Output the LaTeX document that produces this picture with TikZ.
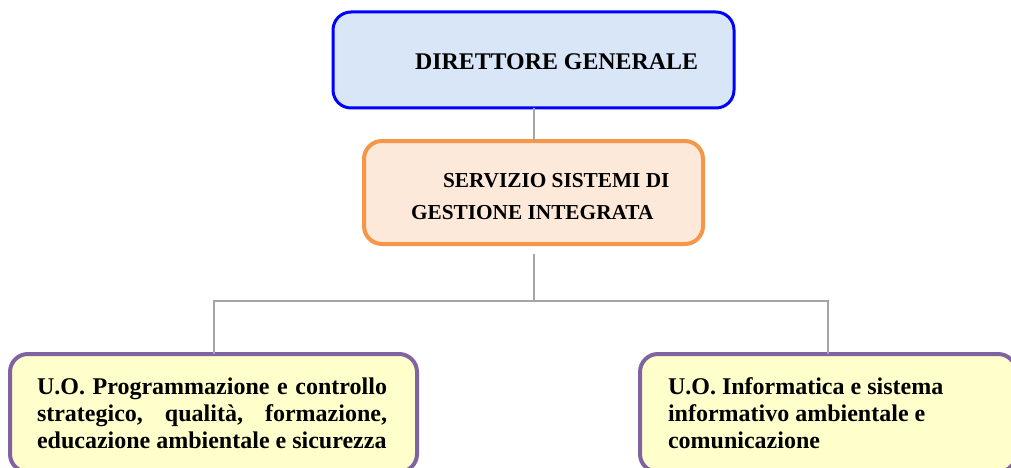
\documentclass[tikz,border=0pt]{standalone}
\usepackage{fontspec}
\setmainfont{Liberation Serif}
\definecolor{blueborder}{HTML}{0000FF}
\definecolor{bluefill}{HTML}{D9E6F7}
\definecolor{orangeborder}{HTML}{F79646}
\definecolor{orangefill}{HTML}{FDE9D9}
\definecolor{purpleborder}{HTML}{8064A2}
\definecolor{yellowfill}{HTML}{FFFFCC}
\definecolor{linkgray}{HTML}{A5A5A5}
\tikzset{
  box/.style={draw, rounded corners=18pt, inner sep=0pt, outer sep=0pt},
  topbox/.style={box, draw=blueborder, fill=bluefill, line width=3pt},
  midbox/.style={box, draw=orangeborder, fill=orangefill, line width=4pt},
  unitbox/.style={box, draw=purpleborder, fill=yellowfill, line width=4pt},
  label/.style={inner sep=0pt, outer sep=0pt, anchor=base west, font=\bfseries},
  link/.style={draw=linkgray, line width=2pt}
}
\begin{document}
\begin{tikzpicture}[x=1pt, y=-1pt]
\useasboundingbox (0,0) rectangle (1011,468);
\clip (0,0) rectangle (1011,468);
% boxes
\node[topbox, minimum width=401pt, minimum height=96pt] (dg) at (533.5,60) {};
\node[midbox, minimum width=339pt, minimum height=103pt] (ssgi) at (533.5,192.5) {};
\node[unitbox, minimum width=407pt, minimum height=118pt] (uoa) at (213.5,413) {};
\node[unitbox, minimum width=376pt, minimum height=118pt] (uob) at (828,413) {};
% texts
\node[label, font=\bfseries\fontsize{23.9}{28}\selectfont] (dgt) at (415,70) {DIRETTORE GENERALE};
\node[label, font=\bfseries\fontsize{21.3}{32}\selectfont] (ssgit1) at (443,187) {SERVIZIO SISTEMI DI};
\node[label, font=\bfseries\fontsize{21.3}{32}\selectfont] (ssgit2) at (411,219) {GESTIONE INTEGRATA};
\node[label] (uoat) at (37,394) {\parbox[t]{350pt}{\fontsize{24}{27}\selectfont\bfseries\noindent\hyphenpenalty=10000
U.O.\ Programmazione e controllo\linebreak strategico, qualità, formazione,\linebreak educazione ambientale e sicurezza}};
\node[label] (uobt) at (668,394) {\parbox[t]{330pt}{\fontsize{24}{27}\selectfont\bfseries\raggedright
U.O. Informatica e sistema\\ informativo ambientale e\\ comunicazione}};
% connectors
\coordinate (j) at (533.5,301);
\draw[link] (dg.south) -- (ssgi.north);
\draw[link, shorten <=10pt] (ssgi.south) -- (j);
\draw[link] (uoa.north) |- (j) -| (uob.north);
\end{tikzpicture}
\end{document}
